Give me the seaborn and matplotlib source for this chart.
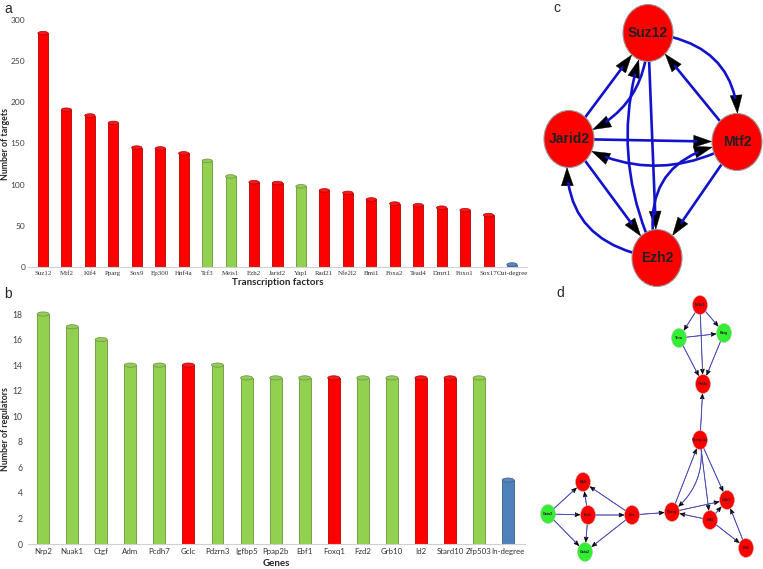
import numpy as np
import pandas as pd
import matplotlib
matplotlib.use("Agg")
import matplotlib.pyplot as plt
import matplotlib.colors as mcolors
from matplotlib.patches import Ellipse, FancyArrowPatch
from matplotlib.path import Path
import seaborn as sns

# ---------------- data ----------------
tf_names = ["Suz12", "Mtf2", "Klf4", "Pparg", "Sox9", "Ep300", "Hnf4a", "Tcf3", "Meis1",
            "Ezh2", "Jarid2", "Yap1", "Rad21", "Nfe2l2", "Bmi1", "Foxa2", "Tead4", "Dmrt1",
            "Foxo1", "Sox17", "Out-degree"]
tf_targets = [284, 191, 184, 175, 145, 144, 138, 129, 110, 103, 102, 98, 93, 90, 82, 77,
              75, 72, 69, 63, 3]
tf_group = ["r", "r", "r", "r", "r", "r", "r", "g", "g", "r", "r", "g", "r", "r", "r", "r",
            "r", "r", "r", "r", "b"]

gene_names = ["Nrp2", "Nuak1", "Ctgf", "Adm", "Pcdh7", "Gclc", "Pdzrn3", "Igfbp5", "Ppap2b",
              "Ebf1", "Foxq1", "Fzd2", "Grb10", "Id2", "Stard10", "Zfp503", "In-degree"]
gene_regulators = [18, 17, 16, 14, 14, 14, 14, 13, 13, 13, 13, 13, 13, 13, 13, 13, 5]
gene_group = ["g", "g", "g", "g", "g", "r", "g", "g", "g", "g", "r", "g", "g", "r", "r", "g", "b"]

group_colors = {"r": "#FF0000", "g": "#92D050", "b": "#4F81BD"}

# network c (layout positions in figure pixels)
c_nodes = {"Suz12": (648, 33), "Jarid2": (569, 139), "Mtf2": (737, 142), "Ezh2": (657, 258)}
c_edges = [("Suz12", "Mtf2", -0.5), ("Mtf2", "Suz12", 0.0), ("Jarid2", "Suz12", 0.0),
           ("Suz12", "Jarid2", -0.37), ("Ezh2", "Suz12", -0.22), ("Suz12", "Ezh2", 0.0),
           ("Jarid2", "Mtf2", 0.0), ("Mtf2", "Jarid2", -0.3), ("Jarid2", "Ezh2", 0.0),
           ("Ezh2", "Jarid2", -0.5), ("Ezh2", "Mtf2", -0.55), ("Mtf2", "Ezh2", 0.0)]

# network d
d_nodes = {"Nr1d1": (700, 305, "r"), "Thra": (679, 338, "g"), "Rarg": (724, 333, "g"),
           "Hnf4a": (703, 384, "r"), "Ppargc1a": (700, 440, "r"), "Cdh1": (727, 500, "r"),
           "Pparg": (672, 512, "r"), "Klf4": (710, 520, "r"), "Klf5": (746, 548, "r"),
           "Fos": (632, 515, "r"), "Myb": (583, 482, "r"), "Ets2": (588, 515, "r"),
           "Gata3": (548, 514, "g"), "Gata2": (585, 552, "g")}
d_edges = [("Nr1d1", "Thra", 0), ("Nr1d1", "Rarg", 0), ("Nr1d1", "Hnf4a", 0),
           ("Thra", "Rarg", 0), ("Thra", "Hnf4a", 0), ("Rarg", "Hnf4a", 0),
           ("Ppargc1a", "Hnf4a", 0), ("Pparg", "Ppargc1a", 0), ("Ppargc1a", "Pparg", -0.3),
           ("Ppargc1a", "Cdh1", 0), ("Ppargc1a", "Klf4", 0), ("Pparg", "Cdh1", 0),
           ("Klf4", "Pparg", 0), ("Klf4", "Cdh1", 0), ("Klf4", "Klf5", 0), ("Klf5", "Cdh1", 0),
           ("Fos", "Pparg", 0), ("Fos", "Myb", 0), ("Fos", "Gata2", 0), ("Ets2", "Fos", 0),
           ("Gata3", "Myb", 0), ("Gata3", "Ets2", 0), ("Gata3", "Gata2", 0),
           ("Ets2", "Myb", 0), ("Ets2", "Gata2", 0)]

# ---------------- style ----------------
sns.set_style("white")
plt.rcParams["font.family"] = ["Lato", "DejaVu Sans"]

W, H = 763, 569
fig = plt.figure(figsize=(W / 100, H / 100), dpi=100)

t = np.linspace(0, 2 * np.pi, 60)
cap_marker = Path(np.column_stack([np.cos(t), 0.35 * np.sin(t)]), closed=True)


def cyl_bars(ax, names, vals, groups, width, cap_s):
    df = pd.DataFrame({"name": names, "val": vals, "grp": groups})
    pal = [group_colors[g] for g in groups]
    sns.barplot(data=df, x="name", y="val", hue="name", palette=pal, legend=False,
                width=width, ax=ax, saturation=1)
    for p, g in zip(ax.patches, groups):
        base = np.array(mcolors.to_rgb(group_colors[g]))
        p.set_edgecolor(base * 0.72)
        p.set_linewidth(0.6)
    caps = [tuple(np.clip(np.array(mcolors.to_rgb(group_colors[g])) * 0.85 + 0.1, 0, 1))
            for g in groups]
    ax.scatter(np.arange(len(names)), vals, marker=cap_marker, s=cap_s, c=caps,
               edgecolors=[tuple(np.array(mcolors.to_rgb(group_colors[g])) * 0.72) for g in groups],
               linewidths=0.5, zorder=5, clip_on=False)
    sns.despine(ax=ax, left=True, top=True, right=True, bottom=False)
    ax.spines["bottom"].set_color("#D0D0D0")
    ax.spines["bottom"].set_linewidth(0.8)
    ax.tick_params(axis="both", length=0, pad=2)
    for lab in ax.get_yticklabels():
        lab.set_color("#404040")


# panel a
ax_a = fig.add_axes([28 / W, 1 - 267 / H, 499 / W, 247 / H])
cyl_bars(ax_a, tf_names, tf_targets, tf_group, 0.43, 55)
ax_a.set_xlim(-0.64, len(tf_names) - 1 + 0.64)
ax_a.set_ylim(0, 300)
ax_a.set_yticks(np.arange(0, 301, 50))
ax_a.tick_params(axis="y", labelsize=6, pad=2)
ax_a.tick_params(axis="x", labelsize=5.0, pad=3)
for lab in ax_a.get_xticklabels():
    lab.set_fontfamily(["Liberation Serif", "DejaVu Serif"])
    lab.set_color("#303030")
ax_a.set_xlabel("Transcription factors", fontsize=7, fontweight="bold", labelpad=1)
ax_a.set_ylabel("Number of targets", fontsize=6.3, fontweight="bold")
ax_a.yaxis.set_label_coords(-0.037, 0.5)

# panel b
ax_b = fig.add_axes([28 / W, 1 - 544 / H, 497 / W, 230 / H])
cyl_bars(ax_b, gene_names, gene_regulators, gene_group, 0.41, 75)
ax_b.set_xlim(-0.52, len(gene_names) - 1 + 0.58)
ax_b.set_ylim(0, 18)
ax_b.set_yticks(np.arange(0, 19, 2))
ax_b.tick_params(axis="y", labelsize=6.2, pad=4)
ax_b.tick_params(axis="x", labelsize=5.7, pad=3)
for lab in ax_b.get_xticklabels():
    lab.set_color("#303030")
ax_b.set_xlabel("Genes", fontsize=7, fontweight="bold", labelpad=3)
ax_b.set_ylabel("Number of regulators", fontsize=6.3, fontweight="bold")
ax_b.yaxis.set_label_coords(-0.037, 0.5)

# overlay for networks + panel letters
ov = fig.add_axes([0, 0, 1, 1])
ov.set_xlim(0, W)
ov.set_ylim(H, 0)
ov.axis("off")
ov.patch.set_alpha(0)

for letter, (lx, ly) in {"a": (4, 9), "b": (4, 294), "c": (553, 8), "d": (556, 293)}.items():
    ov.text(lx, ly, letter, fontsize=10, ha="left", va="center",
            family=["Liberation Sans", "DejaVu Sans"])


def draw_network(nodes, edges, w, h, fs, lw, edge_col, hl, hw, node_ec, node_lw):
    patches = {}
    for name, v in nodes.items():
        x, y = v[0], v[1]
        col = group_colors["r"] if (len(v) < 3 or v[2] == "r") else "#33EE33"
        e = Ellipse((x, y), w, h, facecolor=col, edgecolor=node_ec, linewidth=node_lw, zorder=4)
        ov.add_patch(e)
        patches[name] = e
        ov.text(x, y, name, fontsize=fs, fontweight="bold", ha="center", va="center",
                family=["Liberation Sans", "DejaVu Sans"], color="#202020", zorder=5)
    for a, b, rad in edges:
        pa, pb = nodes[a][:2], nodes[b][:2]
        cs = f"arc3,rad={rad}"
        head = FancyArrowPatch(pa, pb, patchA=patches[a], patchB=patches[b],
                               connectionstyle=cs,
                               arrowstyle=f"-|>,head_length={hl},head_width={hw}",
                               color="black", linewidth=0.3, zorder=3, shrinkA=0, shrinkB=0)
        line = FancyArrowPatch(pa, pb, patchA=patches[a], patchB=patches[b],
                               connectionstyle=cs, arrowstyle="-", color=edge_col,
                               linewidth=lw, zorder=3.5, shrinkA=0, shrinkB=hl * 0.9)
        ov.add_patch(head)
        ov.add_patch(line)


draw_network(c_nodes, c_edges, 50, 57, 10, 1.9, "#1212CC", 13, 4.3, "#999999", 0.8)
draw_network(d_nodes, d_edges, 15, 19, 2.6, 0.7, "#4A4AC8", 3.6, 1.5, "#C0C0C0", 0.3)

fig.savefig("out.png", dpi=100)
